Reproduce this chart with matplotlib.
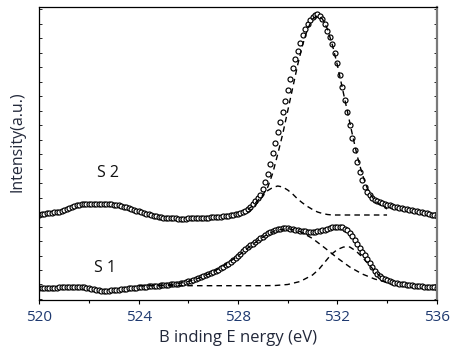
import numpy as np
import matplotlib
matplotlib.use("Agg")
import matplotlib.pyplot as plt
from matplotlib.ticker import MultipleLocator, NullFormatter

plt.rcParams['font.family'] = ['Open Sans', 'DejaVu Sans']

# binding energy grid of the measured spectra (eV)
energy = np.round(np.arange(520.0, 536.05, 0.1), 1)

# S1 spectrum, intensity in arbitrary units
s1 = [10.5, 10.6, 10.7, 10.8, 10.9, 11.0, 11.2, 11.4, 11.6, 11.8,
      12.0, 12.1, 12.2, 12.3, 12.3, 12.2, 12.0, 11.8, 11.5, 11.0,
      10.5, 10.0, 9.5, 9.0, 8.6, 8.3, 8.2, 8.2, 8.3, 8.5,
      8.8, 9.0, 9.3, 9.6, 9.9, 10.2, 10.5, 10.8, 11.1, 11.4,
      11.7, 11.9, 12.1, 12.3, 12.5, 12.8, 13.0, 13.2, 13.4, 13.5,
      13.7, 14.0, 14.2, 14.5, 14.8, 15.1, 15.4, 15.7, 16.3, 16.9,
      17.5, 18.2, 19.0, 19.9, 20.9, 21.9, 22.9, 24.0, 25.0, 26.1,
      27.2, 28.3, 29.5, 30.7, 32.2, 33.8, 35.5, 37.2, 39.0, 41.1,
      43.2, 45.4, 47.6, 49.7, 51.7, 53.6, 55.5, 57.3, 59.0, 60.7,
      62.4, 64.0, 65.6, 67.2, 68.5, 69.4, 70.0, 70.5, 70.7, 70.7,
      70.6, 70.3, 70.0, 69.5, 69.0, 68.5, 68.1, 67.7, 67.4, 67.3,
      67.3, 67.5, 67.8, 68.2, 68.8, 69.5, 70.4, 71.2, 71.8, 72.2,
      72.4, 72.3, 71.6, 70.5, 68.8, 66.2, 63.0, 59.2, 55.0, 50.7,
      47.2, 43.8, 40.4, 36.5, 32.2, 28.2, 25.2, 22.8, 21.0, 19.6,
      18.5, 17.6, 16.9, 16.3, 15.8, 15.3, 14.9, 14.5, 14.1, 13.8,
      13.5, 13.2, 12.9, 12.7, 12.5, 12.3, 12.1, 11.9, 11.7, 11.5,
      11.3]

# S2 spectrum (offset upward)
s2 = [84.5, 84.8, 85.2, 85.6, 86.0, 86.4, 86.8, 87.1, 87.5, 88.2,
      89.0, 90.0, 91.0, 92.0, 93.0, 93.8, 94.4, 94.9, 95.2, 95.4,
      95.5, 95.5, 95.5, 95.5, 95.5, 95.5, 95.4, 95.3, 95.1, 94.8,
      94.5, 94.1, 93.6, 93.0, 92.3, 91.6, 90.9, 90.1, 89.3, 88.5,
      87.7, 86.9, 86.1, 85.4, 84.7, 84.0, 83.4, 82.8, 82.3, 81.9,
      81.5, 81.2, 81.0, 80.8, 80.7, 80.6, 80.5, 80.5, 80.5, 80.5,
      80.6, 80.6, 80.7, 80.8, 80.9, 81.0, 81.1, 81.2, 81.4, 81.6,
      81.8, 82.0, 82.2, 82.4, 82.7, 83.0, 83.3, 83.6, 84.0, 84.6,
      85.3, 86.1, 87.0, 88.3, 90.0, 92.5, 95.5, 98.3, 101.0, 104.5,
      110.0, 117.0, 125.5, 135.5, 146.0, 156.5, 167.0, 177.5, 187.5, 198.0,
      209.0, 220.0, 231.0, 240.5, 248.5, 256.0, 264.0, 270.0, 275.0, 279.0,
      282.0, 284.0, 284.7, 283.5, 280.5, 275.0, 268.5, 262.0, 255.0, 246.0,
      236.0, 224.0, 212.0, 199.0, 187.0, 174.0, 161.0, 149.0, 137.5, 127.5,
      119.0, 112.5, 107.5, 104.0, 101.5, 99.5, 98.0, 96.8, 95.8, 95.0,
      94.3, 93.7, 93.1, 92.5, 91.9, 91.3, 90.7, 90.1, 89.6, 89.1,
      88.6, 88.1, 87.6, 87.1, 86.6, 86.1, 85.6, 85.1, 84.5, 83.8,
      83.2]

# fitted components (dashed)
s1_fit1_x = [524.0, 524.5, 525.0, 525.5, 526.0, 526.5, 527.0, 527.5, 528.0, 528.5,
             529.0, 529.5, 530.0, 530.5, 531.0, 531.5, 532.0, 532.5, 533.0, 533.5, 534.0]
s1_fit1_y = [13.3, 13.5, 14.0, 15.0, 17.5, 21.5, 27.0, 34.5, 43.0, 53.0,
             62.0, 68.5, 70.5, 67.5, 60.5, 51.0, 41.0, 32.0, 25.0, 20.0, 16.5]
s1_fit2_x = [524.0, 525.0, 526.0, 527.0, 528.0, 529.0, 529.5, 530.0, 530.5, 531.0,
             531.25, 531.5, 531.75, 532.0, 532.25, 532.5, 532.75, 533.0, 533.25, 533.5, 533.75]
s1_fit2_y = [13.3, 13.3, 13.3, 13.3, 13.3, 13.3, 13.5, 14.5, 17.5, 24.0,
             29.5, 37.0, 44.5, 49.5, 52.0, 52.0, 48.0, 42.0, 35.0, 28.0, 22.0]

s2_fit1_x = [528.4, 528.6, 528.8, 529.0, 529.2, 529.4, 529.6, 529.8, 530.0, 530.2,
             530.4, 530.6, 530.8, 531.0, 531.2, 531.4, 531.6, 531.8, 532.0, 532.2,
             532.4, 532.6, 532.8, 533.0, 533.2, 533.4, 533.6, 533.8, 534.0]
s2_fit1_y = [89.7, 93.3, 98.7, 104.0, 112.0, 126.0, 145.0, 165.0, 188.0, 211.0,
             234.0, 254.0, 270.0, 280.0, 283.5, 280.0, 270.0, 254.0, 234.0, 211.0,
             188.0, 165.0, 143.0, 125.0, 111.0, 102.0, 96.5, 93.0, 90.0]
s2_fit2_x = [528.4, 528.6, 528.8, 529.0, 529.2, 529.4, 529.6, 529.8, 530.0, 530.2,
             530.4, 530.6, 530.8, 531.0, 531.2, 531.4, 531.6, 531.8, 534.0]
s2_fit2_y = [86.0, 91.0, 97.0, 103.0, 108.5, 111.5, 113.0, 112.0, 109.0, 105.0,
             100.0, 96.0, 92.5, 89.5, 87.0, 85.5, 84.5, 84.0, 84.0]

tick_color = '#1f3a70'
label_color = '#22283a'

fig = plt.figure(figsize=(4.56, 3.51), dpi=100)
ax = fig.add_axes([0.0862, 0.1453, 0.8715, 0.8356])

for ys in (s1, s2):
    ax.plot(energy, ys, linestyle='none', marker='o', markersize=3.6,
            markerfacecolor='white', markeredgecolor='black',
            markeredgewidth=0.85, zorder=2)

for fx, fy in ((s1_fit1_x, s1_fit1_y), (s1_fit2_x, s1_fit2_y),
               (s2_fit1_x, s2_fit1_y), (s2_fit2_x, s2_fit2_y)):
    ax.plot(fx, fy, color='black', linewidth=1.0, dashes=(4, 3), zorder=3)

ax.text(522.75, 126, 'S 2', fontsize=11.5, ha='center', va='center', color='#111111')
ax.text(522.65, 31, 'S 1', fontsize=11.5, ha='center', va='center', color='#111111')

ax.set_xlim(520, 536)
ax.set_ylim(-1, 292.3)
ax.xaxis.set_major_locator(MultipleLocator(4))
ax.xaxis.set_minor_locator(MultipleLocator(2))
ax.yaxis.set_major_locator(MultipleLocator(14.5))
ax.yaxis.set_major_formatter(NullFormatter())

ax.tick_params(axis='x', which='major', direction='out', length=3, width=0.8,
               labelsize=11, labelcolor=tick_color, pad=4.5)
ax.tick_params(axis='x', which='minor', direction='out', length=2, width=0.8)
ax.tick_params(axis='y', which='major', direction='in', length=2, width=0.6,
               left=True, right=True)

for side in ('left', 'top', 'bottom'):
    ax.spines[side].set_linewidth(0.9)
ax.spines['right'].set_color('#7a7a7a')
ax.spines['right'].set_linewidth(1.6)

ax.set_xlabel('B inding E nergy (eV)', fontsize=12, color=label_color, labelpad=3)
ax.set_ylabel('Intensity(a.u.)', fontsize=11.5, color=label_color)
ax.yaxis.set_label_coords(-0.035, 0.54)

fig.savefig('out.png', dpi=100)
